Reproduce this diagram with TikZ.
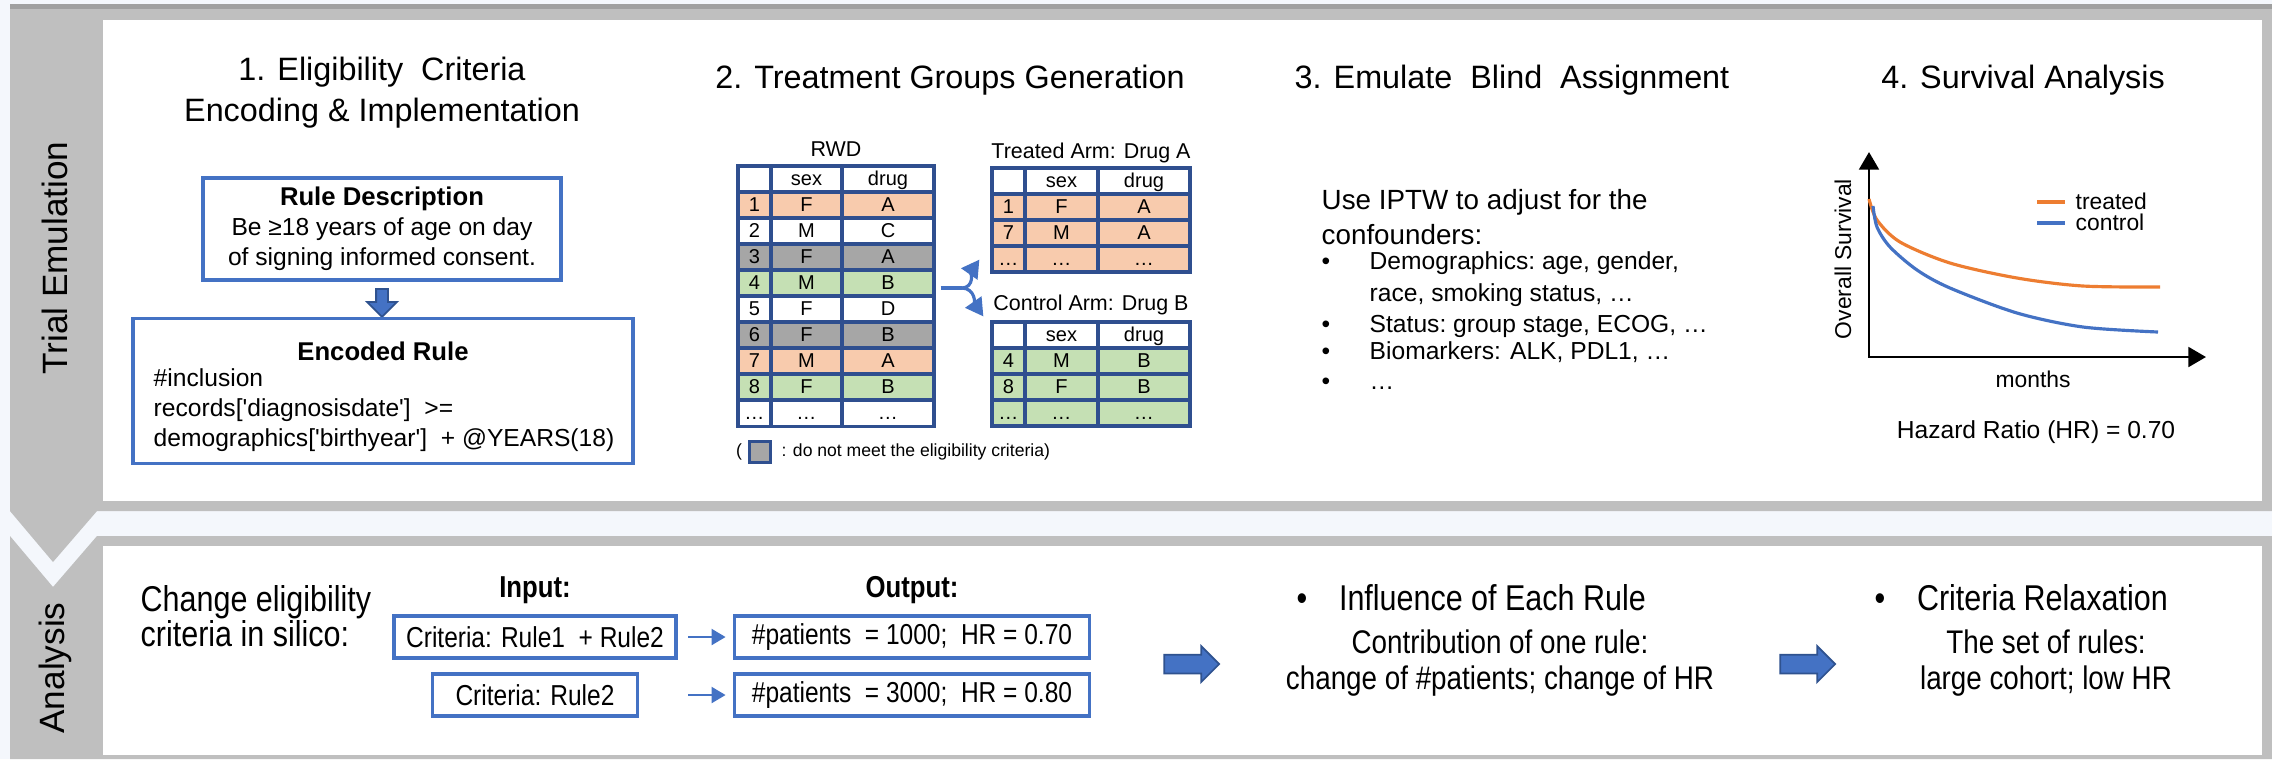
\documentclass[tikz,border=0pt]{standalone}
\usepackage{fontspec}
\setmainfont{Liberation Sans}
\newfontfamily\narrow{Liberation Sans}[FakeStretch=0.85]
\usetikzlibrary{arrows.meta,shapes.arrows,positioning}
\definecolor{pagebg}{HTML}{F4F7FC}
\definecolor{bandgray}{HTML}{BFBFBF}
\definecolor{topgray}{HTML}{A0A0A0}
\definecolor{boxblue}{HTML}{4472C4}
\definecolor{darkblue}{HTML}{2F528F}
\definecolor{tblnavy}{HTML}{2F4F8F}
\definecolor{cellorange}{HTML}{F8CBAD}
\definecolor{cellgray}{HTML}{A6A6A6}
\definecolor{cellgreen}{HTML}{C5E0B4}
\definecolor{curveorange}{HTML}{ED7D31}
\newcommand\setfs[2]{\fontsize{#1}{#2}\selectfont}
\newcommand\sq{\textquotesingle}

\begin{document}
\begin{tikzpicture}[x=0.01cm,y=-0.01cm,>={Triangle[length=4pt,width=4.5pt]},
  every node/.style={inner sep=0pt},
  title/.style={font=\setfs{9.2}{11.6}},
  side/.style={font=\setfs{10}{12},rotate=90},
  bluebox/.style={draw=boxblue,line width=1.1pt,fill=white},
  body/.style={font=\setfs{7}{8.5}},
  cell/.style={font=\setfs{5.7}{6.5},text height=4.1pt,text depth=.3pt},
  tbltitle/.style={font=\setfs{6.1}{7}},
  tbl/.style={draw=tblnavy,line width=.9pt},
  splitline/.style={draw=boxblue,line width=.9pt,-{Triangle[length=5pt,width=5.5pt]}},
  conf/.style={font=\setfs{7.9}{10}},
  bul/.style={font=\setfs{7}{8.5},text height=5pt,text depth=1.4pt},
  plotlab/.style={font=\setfs{6.5}{7.5}},
  axis/.style={line width=.8pt,{Triangle[length=5pt,width=5.6pt]}-{Triangle[length=5pt,width=5.6pt]}},
  blockarr/.style={single arrow,draw=darkblue,fill=boxblue,line width=.5pt},
  bigtxt/.style={font=\narrow\setfs{10.2}{10}},
  subtxt/.style={font=\narrow\setfs{9.3}{10.2}},
  headtxt/.style={font=\narrow\bfseries\setfs{8.6}{10}},
  smallbox/.style={draw=boxblue,line width=1pt,minimum height=.42cm,font=\narrow\setfs{8.2}{9}},
  smallarr/.style={draw=boxblue,line width=.8pt}]
\fill[pagebg] (0,0) rectangle (2272,759);
\useasboundingbox (0,0) rectangle (2272,759);

% frames
\fill[bandgray] (10,4) -- (2272,4) -- (2272,511) -- (97,511) -- (53,562) -- (10,511) -- cycle;
\fill[topgray] (10,4) rectangle (2272,9);
\fill[white] (103,20) rectangle (2262,501);
\fill[bandgray] (10,536) -- (53,587) -- (97,536) -- (2272,536) -- (2272,759) -- (10,759) -- cycle;
\fill[white] (103,546) rectangle (2262,755);
\node[side] (trial) at (55,258) {Trial Emulation};
\node[side] (analysis) at (55,668) {Analysis};

% 1. eligibility criteria
\node[title,align=center] (t1) at (382,93) {1. Eligibility\ \ Criteria\\Encoding \& Implementation};
\node[bluebox,body,align=center,minimum width=3.57cm,minimum height=1.02cm] (desc) at (382,229)
  {{\bfseries\setfs{7.3}{8.5}Rule Description}\\Be ≥18\ years\ of\ age\ on\ day\\of\ signing\ informed\ consent.};
\node[blockarr,shape border rotate=270,inner sep=.05cm,minimum width=.28cm,minimum height=.28cm,
  single arrow head extend=.09cm] (down) at (382,300) {};
\node[bluebox,minimum width=5cm,minimum height=1.45cm] (enc) at (383,391) {};
\node[body,font=\bfseries\setfs{7.3}{8.5}] (enchead) at (383,351) {Encoded\ Rule};
\node[body,align=left,anchor=west] (enccode) at (153,410)
  {\#inclusion\\records[\sq diagnosisdate\sq]\ \ >=\\demographics[\sq birthyear\sq]\ \ + @YEARS(18)};

% 2. treatment groups
\node[title] (t2) at (950,80) {2. Treatment Groups Generation};
\node[tbltitle] (rwdlab) at (836,149) {RWD};
\foreach \ri/\rn/\rs/\rd/\rc in {0//sex/drug/white,1/1/F/A/cellorange,2/2/M/C/white,
    3/3/F/A/cellgray,4/4/M/B/cellgreen,5/5/F/D/white,6/6/F/B/cellgray,
    7/7/M/A/cellorange,8/8/F/B/cellgreen,9/…/…/…/white}{
  \fill[\rc] (738,166+26*\ri) rectangle (934,192+26*\ri);
  \node[cell] (rwd-\ri-a) at (754.5,179+26*\ri) {\rn};
  \node[cell] (rwd-\ri-b) at (806.5,179+26*\ri) {\rs};
  \node[cell] (rwd-\ri-c) at (888,179+26*\ri) {\rd};
}
\foreach \x in {771,842} \draw[tbl] (\x,166) -- (\x,426);
\foreach \ri in {1,...,9} \draw[tbl] (738,166+26*\ri) -- (934,166+26*\ri);
\node[tbl,minimum width=1.96cm,minimum height=2.6cm] (rwd) at (836,296) {};

\node[tbltitle] (treatlab) at (1091,153) {Treated Arm: Drug A};
\foreach \ri/\rn/\rs/\rd/\rc in {0//sex/drug/white,1/1/F/A/cellorange,
    2/7/M/A/cellorange,3/…/…/…/cellorange}{
  \fill[\rc] (992,168+26*\ri) rectangle (1190,194+26*\ri);
  \node[cell] (trt-\ri-a) at (1008.5,181+26*\ri) {\rn};
  \node[cell] (trt-\ri-b) at (1061.5,181+26*\ri) {\rs};
  \node[cell] (trt-\ri-c) at (1144,181+26*\ri) {\rd};
}
\foreach \x in {1025,1098} \draw[tbl] (\x,168) -- (\x,272);
\foreach \ri in {1,2,3} \draw[tbl] (992,168+26*\ri) -- (1190,168+26*\ri);
\node[tbl,minimum width=1.98cm,minimum height=1.04cm] (treated) at (1091,220) {};

\node[tbltitle] (ctrllab) at (1091,305) {Control Arm: Drug B};
\foreach \ri/\rn/\rs/\rd/\rc in {0//sex/drug/white,1/4/M/B/cellgreen,
    2/8/F/B/cellgreen,3/…/…/…/cellgreen}{
  \fill[\rc] (992,322+26*\ri) rectangle (1190,348+26*\ri);
  \node[cell] (ctl-\ri-a) at (1008.5,335+26*\ri) {\rn};
  \node[cell] (ctl-\ri-b) at (1061.5,335+26*\ri) {\rs};
  \node[cell] (ctl-\ri-c) at (1144,335+26*\ri) {\rd};
}
\foreach \x in {1025,1098} \draw[tbl] (\x,322) -- (\x,426);
\foreach \ri in {1,2,3} \draw[tbl] (992,322+26*\ri) -- (1190,322+26*\ri);
\node[tbl,minimum width=1.98cm,minimum height=1.04cm] (control) at (1091,374) {};

\draw[draw=boxblue,line width=.9pt] ([shift={(5,-8)}]rwd.east) -- ([shift={(26,-8)}]rwd.east) coordinate (fork);
\draw[splitline] (fork) to[out=0,in=235] ([shift={(-11,-14)}]treated.south west);
\draw[splitline] (fork) to[out=0,in=125] ([shift={(-7,-4)}]control.north west);

\node[font=\setfs{5}{6}] (lparen) at (739,452) {(};
\node[tbl,fill=cellgray,minimum size=.21cm,right=1.6pt of lparen] (lsq) {};
\node[font=\setfs{5}{6},right=2.4pt of lsq] (legtxt) {: do not meet the eligibility criteria)};

% 3. blind assignment
\node[title] (t3) at (1512,80) {3. Emulate\ \ Blind\ \ Assignment};
\node[conf,align=left,anchor=west] (iptw) at (1321,217) {Use IPTW to adjust for the\\confounders:};
\foreach \y/\bu/\txt [count=\k] in {263/•/{Demographics:\ age,\ gender,},295//{race, smoking status,\ …},
    326/•/{Status:\ group\ stage,\ ECOG, …},353/•/{Biomarkers: ALK,\ PDL1, …},383/•/{…}}{
  \node[bul] (dot\k) at (1326,\y) {\bu};
  \node[bul,anchor=west] (item\k) at (1369,\y) {\txt};
}

% 4. survival analysis
\node[title] (t4) at (2023,80) {4. Survival Analysis};
\coordinate (ytip) at (1869,152);
\coordinate (orig) at (1869,357);
\coordinate (xtip) at (2206,357);
\draw[axis] (ytip) -- (orig) -- (xtip);
\draw[curveorange,line width=.9pt] plot[smooth] coordinates {(1869,199) (1877,220) (1900,242)
  (1950,263) (2017,278) (2083,286) (2160,287)};
\draw[boxblue,line width=.9pt] plot[smooth] coordinates {(1873,206) (1877,227) (1890,247)
  (1917,270) (1950,288) (2017,313) (2083,327) (2158,332)};
\draw[curveorange,line width=1pt] (2037,202) -- (2065,202);
\draw[boxblue,line width=1pt] (2037,223) -- (2065,223);
\node[plotlab,anchor=west] (trlab) at (2075,201) {treated};
\node[plotlab,anchor=west] (ctlab) at (2075,222) {control};
\node[plotlab,rotate=90] (oslab) at (1843,259) {Overall\ Survival};
\node[plotlab] (mlab) at (2033,379) {months};
\node[font=\setfs{7}{8}] (hr) at (2036,432) {Hazard Ratio (HR) = 0.70};

% analysis row
\node[bigtxt,align=left,anchor=west] (change) at (140,616) {Change eligibility\\criteria\ in silico:};
\node[headtxt] (inhead) at (535,590) {Input:};
\node[smallbox,minimum width=2.82cm] (in1) at (535,637) {Criteria: Rule1\ \ + Rule2};
\node[smallbox,minimum width=2.05cm] (in2) at (535,695) {Criteria: Rule2};
\node[headtxt] (outhead) at (912,590) {Output:};
\node[smallbox,minimum width=3.55cm] (out1) at (912,637) {\#patients\ \ = 1000;\ \ HR = 0.70};
\node[smallbox,minimum width=3.55cm] (out2) at (912,695) {\#patients\ \ = 3000;\ \ HR = 0.80};
\draw[smallarr,->] ([xshift=3pt]in1.east) -- ([xshift=-2pt]out1.west);
\draw[smallarr,->] ([xshift=3pt]in1.east |- out2.west) -- ([xshift=-2pt]out2.west);
\node[blockarr,inner sep=.085cm,minimum height=.55cm,minimum width=.33cm,single arrow head extend=.085cm] (big1) at (1187,664) {};
\node[bigtxt,anchor=west] (infl) at (1296,598) {•\hspace{9pt}Influence of Each Rule};
\node[subtxt,align=center] (contrib) at (1500,663) {Contribution of one rule:\\change of \#patients; change of HR};
\node[blockarr,inner sep=.085cm,minimum height=.55cm,minimum width=.33cm,single arrow head extend=.085cm] (big2) at (1803,664) {};
\node[bigtxt,anchor=west] (relax) at (1874,598) {•\hspace{9pt}Criteria Relaxation};
\node[subtxt,align=center] (cohort) at (2046,663) {The set of rules:\\large cohort; low HR};
\end{tikzpicture}
\end{document}
